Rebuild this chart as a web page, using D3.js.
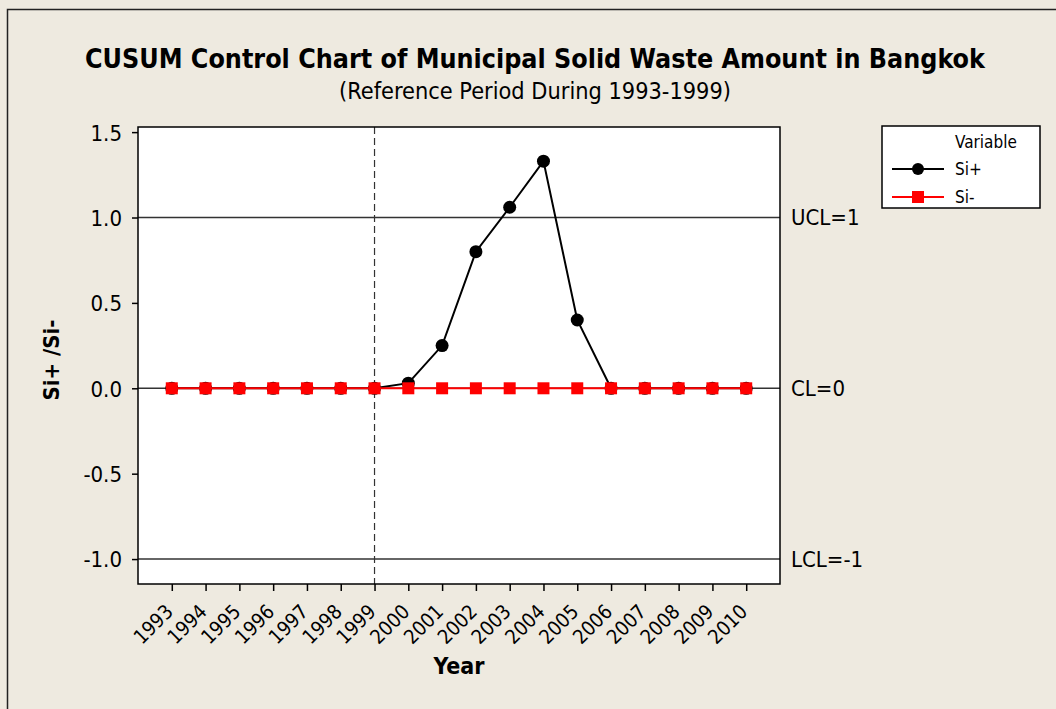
<!DOCTYPE html>
<html>
<head>
<meta charset="utf-8">
<script src="https://cdn.jsdelivr.net/npm/d3@7"></script>
<style>
  html, body { margin: 0; padding: 0; background: #eeeae0; overflow: hidden; }
  text { font-family: "DejaVu Sans Condensed", "DejaVu Sans", sans-serif; fill: #000; }
</style>
</head>
<body>
<div id="chart"></div>
<script>
// data
const years = d3.range(1993, 2011);
const siPlus = [0, 0, 0, 0, 0, 0, 0, 0.03, 0.25, 0.80, 1.06, 1.33, 0.40, 0, 0, 0, 0, 0];
const siMinus = [0, 0, 0, 0, 0, 0, 0, 0, 0, 0, 0, 0, 0, 0, 0, 0, 0, 0];
const yTicks = [-1.0, -0.5, 0.0, 0.5, 1.0, 1.5];
const limits = [
  { value: 1, label: "UCL=1" },
  { value: 0, label: "CL=0" },
  { value: -1, label: "LCL=-1" }
];
const refEnd = 1999;
const seriesNames = ["Si+", "Si-"];

const width = 1056;
const height = 709;
const plot = { left: 138, right: 780, top: 127, bottom: 584 };

const svg = d3
  .select("#chart")
  .append("svg")
  .attr("width", width)
  .attr("height", height);

// outer frame (cropped on right/bottom in reference)
svg
  .append("rect")
  .attr("x", 7.5)
  .attr("y", 9.5)
  .attr("width", width + 20)
  .attr("height", height + 20)
  .attr("fill", "#eeeae0")
  .attr("stroke", "#222")
  .attr("stroke-width", 1.5);

const x = d3.scaleLinear().domain([1992, 2011]).range([plot.left, plot.right]);
const y = d3.scaleLinear().domain([-1.146, 1.53]).range([plot.bottom, plot.top]);

svg
  .append("rect")
  .attr("x", plot.left)
  .attr("y", plot.top)
  .attr("width", plot.right - plot.left)
  .attr("height", plot.bottom - plot.top)
  .attr("fill", "#fff");

// shrink a text's font until it fits a target width
const fitWidth = (sel, target) => {
  const node = sel.node();
  const fs = parseFloat(sel.attr("font-size"));
  const w = node.getComputedTextLength();
  if (w > 0) sel.attr("font-size", ((fs * target) / w).toFixed(2));
};

// titles
const title = svg
  .append("text")
  .attr("x", 535)
  .attr("y", 68)
  .attr("text-anchor", "middle")
  .attr("font-size", 26)
  .attr("font-weight", "bold")
  .style("font-family", "'DejaVu Sans Condensed', 'DejaVu Sans', sans-serif")
  .text("CUSUM Control Chart of Municipal Solid Waste Amount in Bangkok");
fitWidth(title, 900);

const subtitle = svg
  .append("text")
  .attr("x", 535)
  .attr("y", 99)
  .attr("text-anchor", "middle")
  .attr("font-size", 21)
  .text("(Reference Period During 1993-1999)");
fitWidth(subtitle, 392);

// y axis
const fmtY = (d) => d3.format(".1f")(d).replace("\u2212", "-");
const yAxis = svg
  .append("g")
  .attr("transform", `translate(${plot.left},0)`)
  .call(d3.axisLeft(y).tickValues(yTicks).tickFormat(fmtY).tickSize(6).tickPadding(10));
yAxis.select(".domain").remove();
yAxis.selectAll("line").attr("stroke", "#000").attr("stroke-width", 1.5);
yAxis.selectAll("text").attr("font-size", 22).attr("font-family", null).attr("dy", "0.36em");

// x axis
const xAxis = svg
  .append("g")
  .attr("transform", `translate(0,${plot.bottom})`)
  .call(d3.axisBottom(x).tickValues(years).tickFormat(d3.format("d")).tickSize(7));
xAxis.select(".domain").remove();
xAxis.selectAll("line").attr("stroke", "#000").attr("stroke-width", 1.5);
xAxis
  .selectAll("text")
  .attr("font-size", 20)
  .attr("font-family", null)
  .attr("text-anchor", "end")
  .attr("y", 0)
  .attr("dy", 0)
  .attr("transform", "translate(2,29) rotate(-45)");

// axis titles
svg
  .append("text")
  .attr("x", (plot.left + plot.right) / 2)
  .attr("y", 674)
  .attr("text-anchor", "middle")
  .attr("font-size", 23)
  .attr("font-weight", "bold")
  .text("Year");

svg
  .append("text")
  .attr("transform", `translate(59,360) rotate(-90)`)
  .attr("text-anchor", "middle")
  .attr("font-size", 22)
  .attr("font-weight", "bold")
  .text("Si+ /Si-");

// control limit lines
svg
  .selectAll(".limit")
  .data(limits)
  .enter()
  .append("line")
  .attr("class", "limit")
  .attr("x1", plot.left)
  .attr("x2", plot.right)
  .attr("y1", (d) => y(d.value))
  .attr("y2", (d) => y(d.value))
  .attr("stroke", "#333")
  .attr("stroke-width", 1.5);

svg
  .selectAll(".limit-label")
  .data(limits)
  .enter()
  .append("text")
  .attr("class", "limit-label")
  .attr("x", plot.right + 11)
  .attr("y", (d) => y(d.value))
  .attr("dy", "0.36em")
  .attr("font-size", 22)
  .text((d) => d.label);

// reference period divider
svg
  .append("line")
  .attr("x1", x(refEnd))
  .attr("x2", x(refEnd))
  .attr("y1", plot.top)
  .attr("y2", plot.bottom)
  .attr("stroke", "#333")
  .attr("stroke-width", 1.2)
  .attr("stroke-dasharray", "7,4");

// series
const line = d3
  .line()
  .x((d, i) => x(years[i]))
  .y((d) => y(d));

svg
  .append("path")
  .datum(siPlus)
  .attr("d", line)
  .attr("fill", "none")
  .attr("stroke", "#000")
  .attr("stroke-width", 2);

svg
  .selectAll(".dot")
  .data(siPlus)
  .enter()
  .append("circle")
  .attr("class", "dot")
  .attr("cx", (d, i) => x(years[i]))
  .attr("cy", (d) => y(d))
  .attr("r", 6.5)
  .attr("fill", "#000");

svg
  .append("path")
  .datum(siMinus)
  .attr("d", line)
  .attr("fill", "none")
  .attr("stroke", "#f00")
  .attr("stroke-width", 2);

svg
  .selectAll(".sq")
  .data(siMinus)
  .enter()
  .append("rect")
  .attr("class", "sq")
  .attr("x", (d, i) => x(years[i]) - 6)
  .attr("y", (d) => y(d) - 6)
  .attr("width", 12)
  .attr("height", 12)
  .attr("fill", "#f00");

// plot frame
svg
  .append("rect")
  .attr("x", plot.left)
  .attr("y", plot.top)
  .attr("width", plot.right - plot.left)
  .attr("height", plot.bottom - plot.top)
  .attr("fill", "none")
  .attr("stroke", "#000")
  .attr("stroke-width", 1.5);

// legend
const legend = svg.append("g").attr("transform", "translate(882,126)");
legend
  .append("rect")
  .attr("width", 158)
  .attr("height", 82)
  .attr("fill", "#fff")
  .attr("stroke", "#000")
  .attr("stroke-width", 1.5);
legend
  .append("text")
  .attr("x", 73)
  .attr("y", 22)
  .attr("font-size", 17)
  .text("Variable");

const legendColors = ["#000", "#f00"];
const legendRows = legend
  .selectAll(".row")
  .data(seriesNames)
  .enter()
  .append("g")
  .attr("transform", (d, i) => `translate(0,${43 + i * 28})`);
legendRows
  .append("line")
  .attr("x1", 10)
  .attr("x2", 62)
  .attr("stroke", (d, i) => legendColors[i])
  .attr("stroke-width", 2);
legendRows
  .filter((d, i) => i === 0)
  .append("circle")
  .attr("cx", 36)
  .attr("r", 6)
  .attr("fill", "#000");
legendRows
  .filter((d, i) => i === 1)
  .append("rect")
  .attr("x", 30)
  .attr("y", -6)
  .attr("width", 12)
  .attr("height", 12)
  .attr("fill", "#f00");
legendRows
  .append("text")
  .attr("x", 73)
  .attr("dy", "0.36em")
  .attr("font-size", 17)
  .text((d) => d);
</script>
</body>
</html>
